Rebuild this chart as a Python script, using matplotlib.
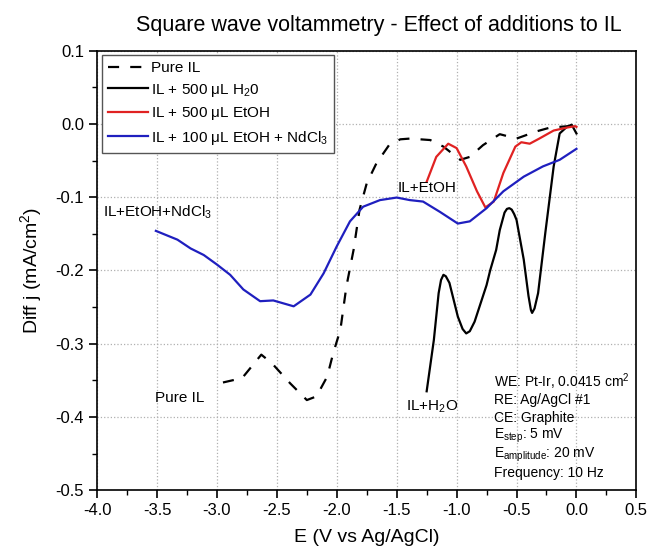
import matplotlib
matplotlib.use("Agg")
import matplotlib.pyplot as plt
from matplotlib.ticker import MultipleLocator, FormatStrFormatter

plt.rcParams['font.family'] = ['Liberation Sans', 'DejaVu Sans']
plt.rcParams['mathtext.default'] = 'regular'

# pure ionic liquid
pure_e = [-2.95, -2.79, -2.63, -2.54, -2.39, -2.25, -2.17, -2.08, -2.03, -1.97,
          -1.92, -1.86, -1.81, -1.75, -1.67, -1.56, -1.47, -1.39, -1.22, -1.11,
          -0.97, -0.89, -0.78, -0.64, -0.50, -0.33, -0.22, -0.06, 0.0]
pure_j = [-0.353, -0.347, -0.315, -0.327, -0.354, -0.377, -0.372, -0.345, -0.313, -0.281,
          -0.222, -0.172, -0.117, -0.081, -0.054, -0.028, -0.021, -0.020, -0.022, -0.031,
          -0.049, -0.045, -0.029, -0.014, -0.020, -0.010, -0.005, -0.003, -0.002]

# IL + 500 uL water
h2o_e = [-1.25, -1.19, -1.15, -1.13, -1.11, -1.09, -1.06, -0.99, -0.95, -0.92,
         -0.89, -0.85, -0.75, -0.72, -0.67, -0.64, -0.60, -0.58, -0.56, -0.54,
         -0.52, -0.50, -0.44, -0.40, -0.38, -0.37, -0.35, -0.32, -0.26, -0.19,
         -0.14, -0.08, -0.04, 0.0]
h2o_j = [-0.365, -0.295, -0.231, -0.213, -0.206, -0.208, -0.217, -0.263, -0.280, -0.286,
         -0.283, -0.270, -0.220, -0.200, -0.172, -0.145, -0.121, -0.116, -0.115, -0.117,
         -0.123, -0.131, -0.185, -0.235, -0.254, -0.258, -0.252, -0.231, -0.149, -0.058,
         -0.013, -0.004, -0.001, -0.013]

# IL + 500 uL EtOH
etoh_e = [-1.25, -1.17, -1.07, -1.00, -0.92, -0.83, -0.76, -0.69, -0.61, -0.51,
          -0.46, -0.39, -0.31, -0.19, -0.08, -0.01, 0.0]
etoh_j = [-0.079, -0.045, -0.027, -0.033, -0.058, -0.092, -0.114, -0.106, -0.067, -0.031,
          -0.025, -0.027, -0.020, -0.009, -0.005, -0.003, -0.004]

# IL + 100 uL EtOH + NdCl3
nd_e = [-3.51, -3.33, -3.22, -3.11, -3.00, -2.89, -2.78, -2.64, -2.53, -2.36,
        -2.22, -2.11, -2.00, -1.89, -1.78, -1.64, -1.50, -1.39, -1.28, -1.14,
        -0.99, -0.89, -0.75, -0.61, -0.44, -0.28, -0.14, 0.0]
nd_j = [-0.146, -0.158, -0.170, -0.179, -0.192, -0.206, -0.226, -0.242, -0.241, -0.249,
        -0.233, -0.204, -0.167, -0.133, -0.113, -0.104, -0.1005, -0.104, -0.106, -0.120,
        -0.136, -0.133, -0.115, -0.092, -0.072, -0.058, -0.049, -0.034]

info_lines = ['WE: Pt-Ir, 0.0415 cm$^2$', 'RE: Ag/AgCl #1', 'CE: Graphite',
              'E$_{step}$: 5 mV', 'E$_{amplitude}$: 20 mV', 'Frequency: 10 Hz']

fig = plt.figure(figsize=(6.52, 5.57), dpi=100)
ax = fig.add_axes([0.149, 0.120, 0.827, 0.789])

ax.plot(pure_e, pure_j, color='black', lw=1.6, dashes=(5, 5), label='Pure IL')
ax.plot(h2o_e, h2o_j, color='black', lw=1.6, label='IL + 500 $\\mu$L H$_2$0')
ax.plot(etoh_e, etoh_j, color='#e02222', lw=1.6, label='IL + 500 $\\mu$L EtOH')
ax.plot(nd_e, nd_j, color='#1f1fbf', lw=1.6, label='IL + 100 $\\mu$L EtOH + NdCl$_3$')

ax.set_xlim(-4.0, 0.5)
ax.set_ylim(-0.5, 0.1)
ax.xaxis.set_major_locator(MultipleLocator(0.5))
ax.xaxis.set_minor_locator(MultipleLocator(0.25))
ax.yaxis.set_major_locator(MultipleLocator(0.1))
ax.yaxis.set_minor_locator(MultipleLocator(0.05))
ax.xaxis.set_major_formatter(FormatStrFormatter('%.1f'))
ax.yaxis.set_major_formatter(FormatStrFormatter('%.1f'))
ax.tick_params(which='major', direction='out', length=6, width=1.2, labelsize=12)
ax.tick_params(which='minor', direction='out', length=3.5, width=1.0)
ax.grid(True, which='major', color='#b0b0b0', ls=':', lw=0.9)
for s in ax.spines.values():
    s.set_linewidth(1.2)

ax.set_title('Square wave voltammetry - Effect of additions to IL', fontsize=15.5,
             pad=14, x=0.522)
ax.set_xlabel('E (V vs Ag/AgCl)', fontsize=14, labelpad=8)
ax.set_ylabel('Diff j (mA/cm$^2$)', fontsize=14, labelpad=8)

ax.text(-3.52, -0.374, 'Pure IL', fontsize=11, va='center')
ax.text(-3.95, -0.120, 'IL+EtOH+NdCl$_3$', fontsize=11, va='center')
ax.text(-1.49, -0.087, 'IL+EtOH', fontsize=11, va='center')
ax.text(-1.42, -0.386, 'IL+H$_2$O', fontsize=11, va='center')

for i, line in enumerate(info_lines):
    ax.text(-0.69, -0.352 - i * 0.0248, line, fontsize=10, va='center')

leg = ax.legend(loc='upper left', bbox_to_anchor=(0.0, 1.0), fontsize=11,
                handlelength=2.6, handletextpad=0.2, labelspacing=0.42,
                borderpad=0.4, borderaxespad=0.3, fancybox=False, framealpha=1)
leg.get_frame().set_edgecolor('#555555')
leg.get_frame().set_linewidth(1.0)

fig.savefig('out.png', dpi=100)
